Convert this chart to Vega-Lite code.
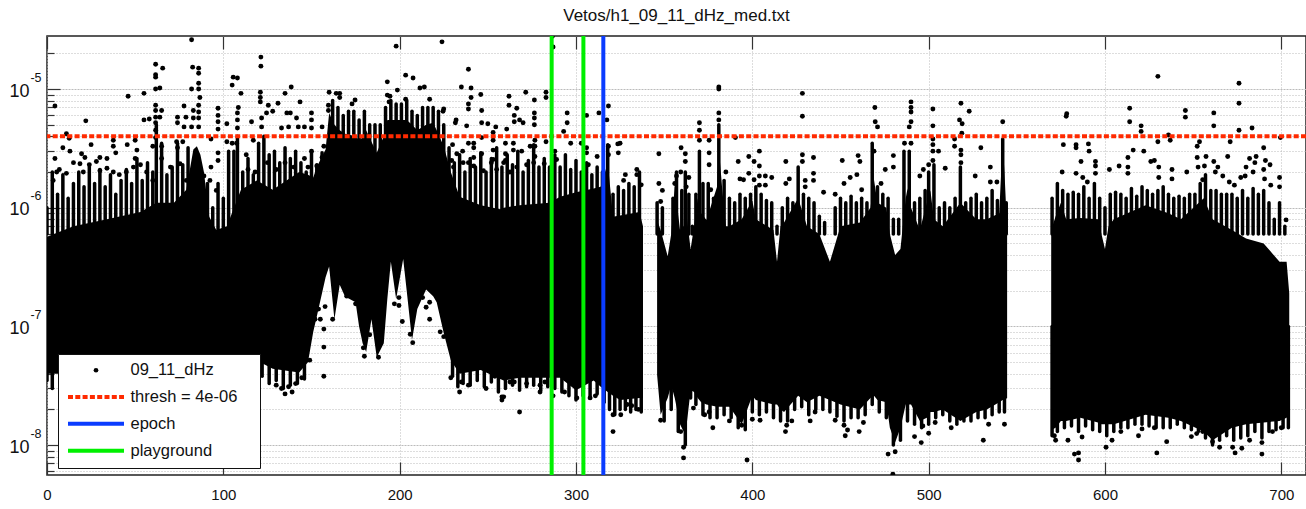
{"$schema":"https://vega.github.io/schema/vega-lite/v6.json","width":1259,"height":439,"autosize":{"type":"none"},"padding":{"left":47,"top":36,"right":0,"bottom":34},"background":"white","title":{"text":"Vetos/h1_09_11_dHz_med.txt","font":"Liberation Sans","fontSize":17,"fontWeight":"normal","color":"#111","offset":9,"anchor":"middle"},"config":{"view":{"stroke":"#222","strokeWidth":1.5},"axis":{"labelFont":"Liberation Sans","labelColor":"#111","title":null,"domain":false,"tickColor":"#333"}},"resolve":{"axis":{"x":"independent","y":"independent"}},"layer":[
{"data":{"values":[
{"seg":1,"x":0,"lo":4.0e-8,"hi":5.7e-7},{"seg":1,"x":15,"lo":4.0e-8,"hi":7e-7},{"seg":1,"x":34,"lo":4.0e-8,"hi":8e-7},{"seg":1,"x":53,"lo":4.1e-8,"hi":9.2e-7},{"seg":1,"x":62,"lo":4.1e-8,"hi":1.1e-6},{"seg":1,"x":72,"lo":4.1e-8,"hi":1.1e-6},{"seg":1,"x":79,"lo":4.1e-8,"hi":1.42e-6},{"seg":1,"x":83,"lo":4.1e-8,"hi":3.1e-6},{"seg":1,"x":85,"lo":4.1e-8,"hi":3.3e-6},{"seg":1,"x":87,"lo":4.1e-8,"hi":2.8e-6},{"seg":1,"x":89,"lo":4.1e-8,"hi":2e-6},{"seg":1,"x":92,"lo":4.1e-8,"hi":8.4e-7},{"seg":1,"x":96,"lo":4.1e-8,"hi":6.5e-7},{"seg":1,"x":102,"lo":4.1e-8,"hi":7e-7},{"seg":1,"x":110,"lo":4.1e-8,"hi":1.42e-6},{"seg":1,"x":119,"lo":4.5e-8,"hi":1.7e-6},{"seg":1,"x":122,"lo":4.9e-8,"hi":1.6e-6},{"seg":1,"x":128,"lo":4.4e-8,"hi":1.42e-6},{"seg":1,"x":143,"lo":4.1e-8,"hi":2e-6},{"seg":1,"x":148,"lo":5e-8,"hi":1.9e-6},{"seg":1,"x":151,"lo":9e-8,"hi":1.8e-6},{"seg":1,"x":153,"lo":1.21e-7,"hi":2.2e-6},{"seg":1,"x":158,"lo":2.6e-7,"hi":3.1e-6},{"seg":1,"x":160,"lo":3.2e-7,"hi":6.3e-6},{"seg":1,"x":163,"lo":1.15e-7,"hi":5e-6},{"seg":1,"x":166,"lo":2.25e-7,"hi":4.5e-6},{"seg":1,"x":169,"lo":1.79e-7,"hi":4.2e-6},{"seg":1,"x":175,"lo":1.6e-7,"hi":4e-6},{"seg":1,"x":177,"lo":1e-7,"hi":3.7e-6},{"seg":1,"x":179,"lo":7.2e-8,"hi":3.9e-6},{"seg":1,"x":181,"lo":6.1e-8,"hi":4.5e-6},{"seg":1,"x":184,"lo":1.15e-7,"hi":3.6e-6},{"seg":1,"x":187,"lo":5.5e-8,"hi":2.9e-6},{"seg":1,"x":191,"lo":7.2e-8,"hi":4e-6},{"seg":1,"x":193,"lo":1.7e-7,"hi":5.5e-6},{"seg":1,"x":195,"lo":3.5e-7,"hi":5.5e-6},{"seg":1,"x":198,"lo":1.7e-7,"hi":5.5e-6},{"seg":1,"x":202,"lo":3.7e-7,"hi":5.5e-6},{"seg":1,"x":204,"lo":2e-7,"hi":5.5e-6},{"seg":1,"x":207,"lo":7.7e-8,"hi":5e-6},{"seg":1,"x":210,"lo":1.4e-7,"hi":4.5e-6},{"seg":1,"x":215,"lo":2.05e-7,"hi":5e-6},{"seg":1,"x":219,"lo":1.8e-7,"hi":5.2e-6},{"seg":1,"x":221,"lo":1.6e-7,"hi":4.5e-6},{"seg":1,"x":225,"lo":8.8e-8,"hi":3.3e-6},{"seg":1,"x":229,"lo":5.2e-8,"hi":2e-6},{"seg":1,"x":234,"lo":4e-8,"hi":1.24e-6},{"seg":1,"x":246,"lo":4.3e-8,"hi":1.05e-6},{"seg":1,"x":257,"lo":3.6e-8,"hi":9.7e-7},{"seg":1,"x":259,"lo":3.5e-8,"hi":1e-6},{"seg":1,"x":268,"lo":3.7e-8,"hi":1.05e-6},{"seg":1,"x":285,"lo":3.7e-8,"hi":1.1e-6},{"seg":1,"x":291,"lo":3.7e-8,"hi":1.24e-6},{"seg":1,"x":300,"lo":2.9e-8,"hi":1.35e-6},{"seg":1,"x":310,"lo":3.5e-8,"hi":1.45e-6},{"seg":1,"x":314,"lo":3.1e-8,"hi":1.5e-6},{"seg":1,"x":318,"lo":2.8e-8,"hi":2.4e-6},{"seg":1,"x":321,"lo":2.6e-8,"hi":8.4e-7},{"seg":1,"x":325,"lo":2.4e-8,"hi":8.6e-7},{"seg":1,"x":336,"lo":2.5e-8,"hi":9.2e-7},{"seg":1,"x":338,"lo":2.5e-8,"hi":7e-7},
{"seg":2,"x":346,"lo":3.9e-8,"hi":7.9e-7},{"seg":2,"x":348,"lo":1.8e-8,"hi":6.5e-7},{"seg":2,"x":352,"lo":2.5e-8,"hi":3.9e-7},{"seg":2,"x":354,"lo":3.2e-8,"hi":6e-7},{"seg":2,"x":356,"lo":2.5e-8,"hi":1.55e-6},{"seg":2,"x":359,"lo":1.5e-8,"hi":6.5e-7},{"seg":2,"x":361,"lo":1.3e-8,"hi":7e-7},{"seg":2,"x":363,"lo":1.6e-8,"hi":7.9e-7},{"seg":2,"x":365,"lo":2.9e-8,"hi":4.5e-7},{"seg":2,"x":367,"lo":2.8e-8,"hi":7e-7},{"seg":2,"x":369,"lo":2.5e-8,"hi":1.2e-6},{"seg":2,"x":371,"lo":2.3e-8,"hi":9e-7},{"seg":2,"x":374,"lo":2.2e-8,"hi":7.9e-7},{"seg":2,"x":380,"lo":2.1e-8,"hi":1.5e-6},{"seg":2,"x":381,"lo":2.1e-8,"hi":3.2e-6},{"seg":2,"x":383,"lo":2.1e-8,"hi":1.4e-6},{"seg":2,"x":385,"lo":2.1e-8,"hi":7e-7},{"seg":2,"x":387,"lo":2.1e-8,"hi":7e-7},{"seg":2,"x":394,"lo":1.5e-8,"hi":8e-7},{"seg":2,"x":400,"lo":2.6e-8,"hi":1.15e-6},{"seg":2,"x":402,"lo":2.4e-8,"hi":8e-7},{"seg":2,"x":412,"lo":2.2e-8,"hi":6.5e-7},{"seg":2,"x":414,"lo":2.2e-8,"hi":3.5e-7},{"seg":2,"x":416,"lo":2e-8,"hi":7e-7},{"seg":2,"x":418,"lo":1.9e-8,"hi":7.5e-7},{"seg":2,"x":426,"lo":2.6e-8,"hi":1.2e-6},{"seg":2,"x":431,"lo":2.3e-8,"hi":7e-7},{"seg":2,"x":438,"lo":2.6e-8,"hi":6e-7},{"seg":2,"x":444,"lo":2.4e-8,"hi":3.5e-7},{"seg":2,"x":450,"lo":2.2e-8,"hi":7e-7},{"seg":2,"x":461,"lo":2e-8,"hi":7.5e-7},{"seg":2,"x":467,"lo":2.5e-8,"hi":1e-6},{"seg":2,"x":469,"lo":2.6e-8,"hi":1.72e-6},{"seg":2,"x":471,"lo":2.4e-8,"hi":1.1e-6},{"seg":2,"x":476,"lo":2.3e-8,"hi":1e-6},{"seg":2,"x":478,"lo":1.4e-8,"hi":6e-7},{"seg":2,"x":481,"lo":1.05e-8,"hi":4e-7},{"seg":2,"x":484,"lo":1.4e-8,"hi":4.5e-7},{"seg":2,"x":487,"lo":2.2e-8,"hi":1.2e-6},{"seg":2,"x":488,"lo":2.2e-8,"hi":1.45e-6},{"seg":2,"x":490,"lo":2.2e-8,"hi":1e-6},{"seg":2,"x":495,"lo":1.6e-8,"hi":6.5e-7},{"seg":2,"x":499,"lo":1.7e-8,"hi":1.1e-6},{"seg":2,"x":501,"lo":1.9e-8,"hi":1.4e-6},{"seg":2,"x":503,"lo":1.9e-8,"hi":8e-7},{"seg":2,"x":508,"lo":2e-8,"hi":7e-7},{"seg":2,"x":518,"lo":1.6e-8,"hi":1.1e-6},{"seg":2,"x":527,"lo":1.9e-8,"hi":8e-7},{"seg":2,"x":533,"lo":2e-8,"hi":8e-7},{"seg":2,"x":540,"lo":2.3e-8,"hi":9e-7},{"seg":2,"x":542,"lo":2.4e-8,"hi":3.6e-6},{"seg":2,"x":543,"lo":2.4e-8,"hi":2e-6},{"seg":2,"x":544.5,"lo":2.5e-8,"hi":6.5e-7},
{"seg":3,"x":569.5,"lo":1.34e-8,"hi":6.5e-7},{"seg":3,"x":572,"lo":1.4e-8,"hi":8.5e-7},{"seg":3,"x":575,"lo":1.6e-8,"hi":1.1e-6},{"seg":3,"x":578,"lo":1.6e-8,"hi":8e-7},{"seg":3,"x":586,"lo":1.7e-8,"hi":8.2e-7},{"seg":3,"x":596,"lo":1.55e-8,"hi":8e-7},{"seg":3,"x":598,"lo":1.5e-8,"hi":6e-7},{"seg":3,"x":600,"lo":1.5e-8,"hi":4.5e-7},{"seg":3,"x":602,"lo":1.5e-8,"hi":7e-7},{"seg":3,"x":605,"lo":1.5e-8,"hi":8e-7},{"seg":3,"x":623,"lo":1.8e-8,"hi":1.05e-6},{"seg":3,"x":636,"lo":1.7e-8,"hi":9e-7},{"seg":3,"x":643,"lo":1.6e-8,"hi":8e-7},{"seg":3,"x":656,"lo":1.3e-8,"hi":1.2e-6},{"seg":3,"x":661,"lo":1.1e-8,"hi":8e-7},{"seg":3,"x":672,"lo":1.4e-8,"hi":6.5e-7},{"seg":3,"x":680,"lo":1.5e-8,"hi":5.5e-7},{"seg":3,"x":690,"lo":1.55e-8,"hi":5e-7},{"seg":3,"x":699,"lo":1.6e-8,"hi":3.5e-7},{"seg":3,"x":703,"lo":1.7e-8,"hi":3.5e-7},{"seg":3,"x":704.5,"lo":1.8e-8,"hi":1.9e-7}
]},"mark":{"type":"area","color":"black","clip":true},"encoding":{"detail":{"field":"seg"},"x":{"field":"x","type":"quantitative","scale":{"domain":[0,714],"nice":false,"zero":false},"axis":{"orient":"bottom","values":[0,100,200,300,400,500,600,700],"labelFontSize":15,"labelPadding":25,"tickSize":-13,"tickColor":"#333","tickWidth":1.2,"grid":true,"gridColor":"#bbb","gridDash":[1,2],"labelFlush":false,"labelOverlap":false,"format":"d"}},"y":{"field":"lo","type":"quantitative","scale":{"type":"log","domain":[5.6e-9,2.8e-5],"nice":false},"axis":{"orient":"left","values":[1e-8,1e-7,1e-6,1e-5],"labelExpr":"'10'","labelFontSize":18,"labelPadding":31,"labelOffset":2,"tickSize":-13,"tickWidth":1.2,"grid":true,"gridColor":"#bbb","gridDash":[2,1],"labelOverlap":false}},"y2":{"field":"hi"}}},
{"data":{"values":[
{"x":0,"lo":6e-7,"hi":1e-6},{"x":3,"lo":6e-7,"hi":2e-6},{"x":6,"lo":6e-7,"hi":1.3e-6},{"x":9,"lo":6e-7,"hi":1.9e-6},{"x":12,"lo":6e-7,"hi":1.2e-6},{"x":15,"lo":6e-7,"hi":1.6e-6},{"x":18,"lo":6e-7,"hi":2e-6},{"x":21,"lo":6e-7,"hi":1.5e-6},{"x":24,"lo":6e-7,"hi":2.2e-6},{"x":27,"lo":6e-7,"hi":1.6e-6},{"x":30,"lo":6e-7,"hi":2.1e-6},{"x":33,"lo":6e-7,"hi":1.5e-6},{"x":36,"lo":6e-7,"hi":1.9e-6},{"x":39,"lo":6e-7,"hi":1.3e-6},{"x":42,"lo":6e-7,"hi":1.7e-6},{"x":45,"lo":6e-7,"hi":2.1e-6},{"x":48,"lo":6e-7,"hi":1.6e-6},{"x":51,"lo":6e-7,"hi":2.6e-6},{"x":54,"lo":6e-7,"hi":1.7e-6},{"x":57,"lo":6e-7,"hi":2.4e-6},{"x":60,"lo":6e-7,"hi":2e-6},{"x":62,"lo":6e-7,"hi":5e-6},{"x":65,"lo":6e-7,"hi":3.5e-6},{"x":68,"lo":6e-7,"hi":1.9e-6},{"x":71,"lo":6e-7,"hi":2.2e-6},{"x":74,"lo":6e-7,"hi":3.5e-6},{"x":77,"lo":6e-7,"hi":2.3e-6},{"x":80,"lo":6e-7,"hi":3.2e-6},{"x":91,"lo":6e-7,"hi":1.6e-6},{"x":94,"lo":6e-7,"hi":1e-6},{"x":97,"lo":6e-7,"hi":1.6e-6},{"x":100,"lo":6e-7,"hi":1.2e-6},{"x":103,"lo":6e-7,"hi":3e-6},{"x":106,"lo":6e-7,"hi":3e-6},{"x":108,"lo":6e-7,"hi":4e-6},{"x":111,"lo":6e-7,"hi":2e-6},{"x":114,"lo":6e-7,"hi":2.6e-6},{"x":117,"lo":6e-7,"hi":1.9e-6},{"x":120,"lo":6e-7,"hi":3.5e-6},{"x":123,"lo":6e-7,"hi":4e-6},{"x":126,"lo":6e-7,"hi":2.8e-6},{"x":129,"lo":6e-7,"hi":3e-6},{"x":132,"lo":6e-7,"hi":2.4e-6},{"x":135,"lo":6e-7,"hi":3.2e-6},{"x":138,"lo":6e-7,"hi":2.6e-6},{"x":141,"lo":6e-7,"hi":3e-6},{"x":144,"lo":6e-7,"hi":2.4e-6},{"x":147,"lo":6e-7,"hi":2e-6},{"x":150,"lo":6e-7,"hi":3e-6},{"x":153,"lo":6e-7,"hi":2.3e-6},{"x":156,"lo":6e-7,"hi":2.9e-6},{"x":162,"lo":6e-7,"hi":8e-6},{"x":165,"lo":6e-7,"hi":7e-6},{"x":168,"lo":6e-7,"hi":6e-6},{"x":171,"lo":6e-7,"hi":6.5e-6},{"x":174,"lo":6e-7,"hi":6.5e-6},{"x":177,"lo":6e-7,"hi":5.5e-6},{"x":180,"lo":6e-7,"hi":6.5e-6},{"x":183,"lo":6e-7,"hi":5e-6},{"x":186,"lo":6e-7,"hi":5e-6},{"x":189,"lo":6e-7,"hi":5e-6},{"x":192,"lo":6e-7,"hi":7e-6},{"x":195,"lo":6e-7,"hi":8e-6},{"x":198,"lo":6e-7,"hi":7.5e-6},{"x":201,"lo":6e-7,"hi":7.5e-6},{"x":204,"lo":6e-7,"hi":8e-6},{"x":207,"lo":6e-7,"hi":6.5e-6},{"x":210,"lo":6e-7,"hi":6e-6},{"x":213,"lo":6e-7,"hi":7e-6},{"x":216,"lo":6e-7,"hi":7e-6},{"x":219,"lo":6e-7,"hi":7e-6},{"x":222,"lo":6e-7,"hi":6.5e-6},{"x":225,"lo":6e-7,"hi":5e-6},{"x":228,"lo":6e-7,"hi":3.2e-6},{"x":231,"lo":6e-7,"hi":2.4e-6},{"x":234,"lo":6e-7,"hi":2.8e-6},{"x":237,"lo":6e-7,"hi":2e-6},{"x":240,"lo":6e-7,"hi":2.6e-6},{"x":243,"lo":6e-7,"hi":2.2e-6},{"x":246,"lo":6e-7,"hi":2.9e-6},{"x":249,"lo":6e-7,"hi":2e-6},{"x":252,"lo":6e-7,"hi":2.6e-6},{"x":255,"lo":6e-7,"hi":3.2e-6},{"x":258,"lo":6e-7,"hi":2.2e-6},{"x":261,"lo":6e-7,"hi":2.8e-6},{"x":264,"lo":6e-7,"hi":2.3e-6},{"x":267,"lo":6e-7,"hi":3e-6},{"x":270,"lo":6e-7,"hi":2e-6},{"x":273,"lo":6e-7,"hi":2.5e-6},{"x":276,"lo":6e-7,"hi":3.4e-6},{"x":279,"lo":6e-7,"hi":2.2e-6},{"x":282,"lo":6e-7,"hi":2.6e-6},{"x":285,"lo":6e-7,"hi":2.2e-6},{"x":288,"lo":6e-7,"hi":2.8e-6},{"x":291,"lo":6e-7,"hi":2.2e-6},{"x":294,"lo":6e-7,"hi":2.8e-6},{"x":297,"lo":6e-7,"hi":2.1e-6},{"x":300,"lo":6e-7,"hi":2.5e-6},{"x":303,"lo":6e-7,"hi":2e-6},{"x":306,"lo":6e-7,"hi":2.4e-6},{"x":309,"lo":6e-7,"hi":1.9e-6},{"x":312,"lo":6e-7,"hi":2.2e-6},{"x":315,"lo":6e-7,"hi":2e-6},{"x":318,"lo":6e-7,"hi":3.4e-6},{"x":321,"lo":6e-7,"hi":1.3e-6},{"x":324,"lo":6e-7,"hi":1.5e-6},{"x":327,"lo":6e-7,"hi":1.4e-6},{"x":330,"lo":6e-7,"hi":1.6e-6},{"x":333,"lo":6e-7,"hi":1.5e-6},{"x":336,"lo":6e-7,"hi":2e-6},
{"x":346,"lo":6e-7,"hi":1.1e-6},{"x":349,"lo":6e-7,"hi":1e-6},{"x":355,"lo":6e-7,"hi":1.2e-6},{"x":357,"lo":6e-7,"hi":2e-6},{"x":360,"lo":6e-7,"hi":1.4e-6},{"x":362,"lo":6e-7,"hi":2e-6},{"x":364,"lo":6e-7,"hi":1.3e-6},{"x":366,"lo":6e-7,"hi":7e-7},{"x":368,"lo":6e-7,"hi":1.3e-6},{"x":370,"lo":6e-7,"hi":3e-6},{"x":372,"lo":6e-7,"hi":1.6e-6},{"x":375,"lo":6e-7,"hi":1.6e-6},{"x":378,"lo":6e-7,"hi":1.2e-6},{"x":381,"lo":6e-7,"hi":5e-6},{"x":384,"lo":6e-7,"hi":1.7e-6},{"x":387,"lo":6e-7,"hi":1.2e-6},{"x":390,"lo":6e-7,"hi":1.1e-6},{"x":393,"lo":6e-7,"hi":1.3e-6},{"x":396,"lo":6e-7,"hi":1.2e-6},{"x":399,"lo":6e-7,"hi":1.3e-6},{"x":402,"lo":6e-7,"hi":1.5e-6},{"x":405,"lo":6e-7,"hi":1.3e-6},{"x":408,"lo":6e-7,"hi":1.15e-6},{"x":411,"lo":6e-7,"hi":1.1e-6},{"x":414,"lo":6e-7,"hi":7e-7},{"x":417,"lo":6e-7,"hi":1e-6},{"x":420,"lo":6e-7,"hi":1.2e-6},{"x":423,"lo":6e-7,"hi":1.1e-6},{"x":426,"lo":6e-7,"hi":2.2e-6},{"x":429,"lo":6e-7,"hi":1.3e-6},{"x":432,"lo":6e-7,"hi":1.2e-6},{"x":435,"lo":6e-7,"hi":1.1e-6},{"x":438,"lo":6e-7,"hi":8.5e-7},{"x":441,"lo":6e-7,"hi":7.5e-7},{"x":447,"lo":6e-7,"hi":1e-6},{"x":450,"lo":6e-7,"hi":1.2e-6},{"x":453,"lo":6e-7,"hi":1.1e-6},{"x":456,"lo":6e-7,"hi":1.25e-6},{"x":459,"lo":6e-7,"hi":1.1e-6},{"x":462,"lo":6e-7,"hi":1.2e-6},{"x":465,"lo":6e-7,"hi":1.1e-6},{"x":468,"lo":6e-7,"hi":3.5e-6},{"x":471,"lo":6e-7,"hi":1.5e-6},{"x":474,"lo":6e-7,"hi":1.3e-6},{"x":477,"lo":6e-7,"hi":1.2e-6},{"x":480,"lo":6e-7,"hi":8e-7},{"x":483,"lo":6e-7,"hi":8e-7},{"x":486,"lo":6e-7,"hi":3e-6},{"x":489,"lo":6e-7,"hi":3e-6},{"x":492,"lo":6e-7,"hi":1.1e-6},{"x":495,"lo":6e-7,"hi":1.2e-6},{"x":498,"lo":6e-7,"hi":1.4e-6},{"x":500,"lo":6e-7,"hi":2e-6},{"x":503,"lo":6e-7,"hi":2.3e-6},{"x":506,"lo":6e-7,"hi":1e-6},{"x":509,"lo":6e-7,"hi":1.1e-6},{"x":512,"lo":6e-7,"hi":1e-6},{"x":515,"lo":6e-7,"hi":1.2e-6},{"x":518,"lo":6e-7,"hi":2.2e-6},{"x":521,"lo":6e-7,"hi":1.1e-6},{"x":524,"lo":6e-7,"hi":1.2e-6},{"x":527,"lo":6e-7,"hi":1.3e-6},{"x":530,"lo":6e-7,"hi":1.1e-6},{"x":533,"lo":6e-7,"hi":1.2e-6},{"x":536,"lo":6e-7,"hi":1.4e-6},{"x":539,"lo":6e-7,"hi":1.15e-6},{"x":542,"lo":6e-7,"hi":3.8e-6},{"x":544,"lo":6e-7,"hi":1.1e-6},
{"x":570,"lo":6e-7,"hi":1.2e-6},{"x":573,"lo":6e-7,"hi":1.6e-6},{"x":576,"lo":6e-7,"hi":1.4e-6},{"x":579,"lo":6e-7,"hi":1.3e-6},{"x":582,"lo":6e-7,"hi":1.35e-6},{"x":585,"lo":6e-7,"hi":1.3e-6},{"x":588,"lo":6e-7,"hi":1.5e-6},{"x":591,"lo":6e-7,"hi":1.2e-6},{"x":594,"lo":6e-7,"hi":1.6e-6},{"x":597,"lo":6e-7,"hi":1.2e-6},{"x":600,"lo":6e-7,"hi":1e-6},{"x":603,"lo":6e-7,"hi":1.3e-6},{"x":606,"lo":6e-7,"hi":1.35e-6},{"x":609,"lo":6e-7,"hi":1.3e-6},{"x":612,"lo":6e-7,"hi":1.2e-6},{"x":615,"lo":6e-7,"hi":1.45e-6},{"x":618,"lo":6e-7,"hi":1.25e-6},{"x":621,"lo":6e-7,"hi":1.5e-6},{"x":624,"lo":6e-7,"hi":1.4e-6},{"x":627,"lo":6e-7,"hi":1.3e-6},{"x":630,"lo":6e-7,"hi":1.4e-6},{"x":633,"lo":6e-7,"hi":1.5e-6},{"x":636,"lo":6e-7,"hi":1.3e-6},{"x":639,"lo":6e-7,"hi":1.2e-6},{"x":642,"lo":6e-7,"hi":1.25e-6},{"x":645,"lo":6e-7,"hi":1.2e-6},{"x":648,"lo":6e-7,"hi":1.3e-6},{"x":651,"lo":6e-7,"hi":1.3e-6},{"x":654,"lo":6e-7,"hi":1.6e-6},{"x":657,"lo":6e-7,"hi":1.9e-6},{"x":660,"lo":6e-7,"hi":1.4e-6},{"x":663,"lo":6e-7,"hi":1.4e-6},{"x":666,"lo":6e-7,"hi":1.3e-6},{"x":669,"lo":6e-7,"hi":1.3e-6},{"x":672,"lo":6e-7,"hi":1.3e-6},{"x":675,"lo":6e-7,"hi":1.2e-6},{"x":678,"lo":6e-7,"hi":1.4e-6},{"x":681,"lo":6e-7,"hi":1.2e-6},{"x":684,"lo":6e-7,"hi":1.45e-6},{"x":687,"lo":6e-7,"hi":1.3e-6},{"x":690,"lo":6e-7,"hi":1.4e-6},{"x":693,"lo":6e-7,"hi":1.1e-6},{"x":696,"lo":6e-7,"hi":8e-7},{"x":699,"lo":6e-7,"hi":1.1e-6},{"x":702,"lo":6e-7,"hi":7e-7},
{"x":0,"lo":3.5e-8,"hi":1e-7},{"x":3,"lo":3e-8,"hi":1e-7},{"x":122,"lo":3.8e-8,"hi":1e-7},{"x":126,"lo":3.3e-8,"hi":1e-7},{"x":130,"lo":3.5e-8,"hi":1e-7},{"x":134,"lo":3e-8,"hi":1e-7},{"x":138,"lo":3.2e-8,"hi":1e-7},{"x":142,"lo":3.3e-8,"hi":1e-7},{"x":146,"lo":3.6e-8,"hi":1e-7},{"x":230,"lo":3.8e-8,"hi":1e-7},{"x":233,"lo":3.1e-8,"hi":1e-7},{"x":236,"lo":3.3e-8,"hi":1e-7},{"x":240,"lo":3.2e-8,"hi":1e-7},{"x":244,"lo":3.5e-8,"hi":1e-7},{"x":248,"lo":3.1e-8,"hi":1e-7},{"x":252,"lo":3.4e-8,"hi":1e-7},{"x":256,"lo":2.8e-8,"hi":1e-7},{"x":260,"lo":3e-8,"hi":1e-7},{"x":264,"lo":3.2e-8,"hi":1e-7},{"x":268,"lo":2.9e-8,"hi":1e-7},{"x":272,"lo":3.1e-8,"hi":1e-7},{"x":276,"lo":3.2e-8,"hi":1e-7},{"x":280,"lo":2.9e-8,"hi":1e-7},{"x":284,"lo":3.1e-8,"hi":1e-7},{"x":288,"lo":3e-8,"hi":1e-7},{"x":292,"lo":2.8e-8,"hi":1e-7},{"x":296,"lo":2.6e-8,"hi":1e-7},{"x":300,"lo":2.4e-8,"hi":1e-7},{"x":304,"lo":2.6e-8,"hi":1e-7},{"x":308,"lo":2.6e-8,"hi":1e-7},{"x":312,"lo":2.7e-8,"hi":1e-7},{"x":316,"lo":2.3e-8,"hi":1e-7},{"x":319,"lo":2e-8,"hi":1e-7},{"x":322,"lo":1.8e-8,"hi":1e-7},{"x":325,"lo":2e-8,"hi":1e-7},{"x":328,"lo":2e-8,"hi":1e-7},{"x":331,"lo":1.9e-8,"hi":1e-7},{"x":334,"lo":2e-8,"hi":1e-7},{"x":337,"lo":1.9e-8,"hi":1e-7},
{"x":350,"lo":1.6e-8,"hi":1e-7},{"x":354,"lo":2e-8,"hi":1e-7},{"x":358,"lo":1.3e-8,"hi":1e-7},{"x":362,"lo":1e-8,"hi":1e-7},{"x":365,"lo":2.5e-8,"hi":1e-7},{"x":368,"lo":2.2e-8,"hi":1e-7},{"x":372,"lo":1.8e-8,"hi":1e-7},{"x":376,"lo":1.7e-8,"hi":1e-7},{"x":380,"lo":1.7e-8,"hi":1e-7},{"x":384,"lo":1.8e-8,"hi":1e-7},{"x":388,"lo":1.7e-8,"hi":1e-7},{"x":392,"lo":1.4e-8,"hi":1e-7},{"x":396,"lo":1.35e-8,"hi":1e-7},{"x":400,"lo":1.9e-8,"hi":1e-7},{"x":404,"lo":1.8e-8,"hi":1e-7},{"x":408,"lo":1.9e-8,"hi":1e-7},{"x":412,"lo":1.7e-8,"hi":1e-7},{"x":416,"lo":1.6e-8,"hi":1e-7},{"x":420,"lo":1.6e-8,"hi":1e-7},{"x":424,"lo":2e-8,"hi":1e-7},{"x":428,"lo":2.1e-8,"hi":1e-7},{"x":432,"lo":1.8e-8,"hi":1e-7},{"x":436,"lo":2e-8,"hi":1e-7},{"x":440,"lo":2e-8,"hi":1e-7},{"x":444,"lo":1.9e-8,"hi":1e-7},{"x":448,"lo":1.75e-8,"hi":1e-7},{"x":452,"lo":1.6e-8,"hi":1e-7},{"x":456,"lo":1.7e-8,"hi":1e-7},{"x":460,"lo":1.7e-8,"hi":1e-7},{"x":464,"lo":1.8e-8,"hi":1e-7},{"x":468,"lo":2.2e-8,"hi":1e-7},{"x":472,"lo":1.9e-8,"hi":1e-7},{"x":476,"lo":1.7e-8,"hi":1e-7},{"x":480,"lo":1e-8,"hi":1e-7},{"x":484,"lo":1.1e-8,"hi":1e-7},{"x":488,"lo":1.6e-8,"hi":1e-7},{"x":492,"lo":1.5e-8,"hi":1e-7},{"x":496,"lo":1.4e-8,"hi":1e-7},{"x":500,"lo":1.5e-8,"hi":1e-7},{"x":504,"lo":1.7e-8,"hi":1e-7},{"x":508,"lo":1.8e-8,"hi":1e-7},{"x":512,"lo":1.6e-8,"hi":1e-7},{"x":516,"lo":1.5e-8,"hi":1e-7},{"x":520,"lo":1.6e-8,"hi":1e-7},{"x":524,"lo":1.6e-8,"hi":1e-7},{"x":528,"lo":1.7e-8,"hi":1e-7},{"x":532,"lo":1.7e-8,"hi":1e-7},{"x":536,"lo":1.8e-8,"hi":1e-7},{"x":540,"lo":1.9e-8,"hi":1e-7},{"x":543,"lo":1.9e-8,"hi":1e-7},
{"x":570,"lo":1.2e-8,"hi":1e-7},{"x":573,"lo":1.3e-8,"hi":1e-7},{"x":577,"lo":1.4e-8,"hi":1e-7},{"x":581,"lo":1.45e-8,"hi":1e-7},{"x":585,"lo":1.3e-8,"hi":1e-7},{"x":589,"lo":1.45e-8,"hi":1e-7},{"x":593,"lo":1.35e-8,"hi":1e-7},{"x":597,"lo":1.3e-8,"hi":1e-7},{"x":601,"lo":1.2e-8,"hi":1e-7},{"x":605,"lo":1.3e-8,"hi":1e-7},{"x":609,"lo":1.4e-8,"hi":1e-7},{"x":613,"lo":1.4e-8,"hi":1e-7},{"x":617,"lo":1.5e-8,"hi":1e-7},{"x":621,"lo":1.5e-8,"hi":1e-7},{"x":625,"lo":1.45e-8,"hi":1e-7},{"x":629,"lo":1.4e-8,"hi":1e-7},{"x":633,"lo":1.4e-8,"hi":1e-7},{"x":637,"lo":1.4e-8,"hi":1e-7},{"x":641,"lo":1.5e-8,"hi":1e-7},{"x":645,"lo":1.4e-8,"hi":1e-7},{"x":649,"lo":1.35e-8,"hi":1e-7},{"x":653,"lo":1.3e-8,"hi":1e-7},{"x":657,"lo":1.15e-8,"hi":1e-7},{"x":661,"lo":1e-8,"hi":1e-7},{"x":665,"lo":1.1e-8,"hi":1e-7},{"x":669,"lo":1.2e-8,"hi":1e-7},{"x":673,"lo":1.1e-8,"hi":1e-7},{"x":677,"lo":1.15e-8,"hi":1e-7},{"x":681,"lo":1.2e-8,"hi":1e-7},{"x":685,"lo":1.3e-8,"hi":1e-7},{"x":689,"lo":1.15e-8,"hi":1e-7},{"x":693,"lo":1.3e-8,"hi":1e-7},{"x":697,"lo":1.35e-8,"hi":1e-7},{"x":701,"lo":1.4e-8,"hi":1e-7},{"x":704,"lo":1.4e-8,"hi":1e-7}
]},"mark":{"type":"rule","color":"black","strokeWidth":3.5,"strokeCap":"round","clip":true},"encoding":{"x":{"field":"x","type":"quantitative","axis":null},"y":{"field":"lo","type":"quantitative","axis":null},"y2":{"field":"hi"}}},
{"data":{"values":[
{"x":82,"y":2.6e-5},{"x":61.6,"y":1.62e-5},{"x":65.6,"y":1.5e-5},{"x":61.6,"y":1.26e-5},{"x":61.6,"y":1.32e-5},{"x":82.6,"y":1.53e-5},{"x":86,"y":1.5e-5},{"x":86,"y":1.36e-5},{"x":86,"y":1.12e-5},{"x":86,"y":1e-5},{"x":82,"y":1e-5},{"x":121.3,"y":1.86e-5},{"x":121.3,"y":1.56e-5},{"x":105.6,"y":1.26e-5},{"x":108,"y":1.24e-5},{"x":105,"y":1.08e-5},{"x":110,"y":9.2e-6},{"x":121,"y":9.4e-6},{"x":121,"y":8.5e-6},{"x":121,"y":7.8e-6},{"x":138.5,"y":1.04e-5},{"x":135,"y":9.2e-6},{"x":143.5,"y":7.8e-6},{"x":46,"y":8.7e-6},{"x":55,"y":9.2e-6},{"x":4.5,"y":7.2e-6},{"x":22,"y":5.4e-6},{"x":61.6,"y":1e-5},{"x":64,"y":1.02e-5},{"x":77.7,"y":7.2e-6},{"x":86.7,"y":8.5e-6},{"x":86,"y":7.3e-6},{"x":86,"y":6.4e-6},{"x":86,"y":5.7e-6},{"x":83,"y":6.6e-6},{"x":83,"y":5.7e-6},{"x":82,"y":4.8e-6},{"x":86,"y":4.8e-6},{"x":97,"y":6.9e-6},{"x":97,"y":6e-6},{"x":97,"y":5.3e-6},{"x":97,"y":4.6e-6},{"x":102,"y":5.1e-6},{"x":61.6,"y":7.3e-6},{"x":61.6,"y":6.6e-6},{"x":61.6,"y":5.8e-6},{"x":61.6,"y":5.2e-6},{"x":61.6,"y":4.5e-6},{"x":61.6,"y":3.9e-6},{"x":65,"y":6.6e-6},{"x":64,"y":5.8e-6},{"x":55,"y":5.5e-6},{"x":58,"y":5.6e-6},{"x":74,"y":5.8e-6},{"x":74,"y":5.2e-6},{"x":78.8,"y":5.8e-6},{"x":77.7,"y":4.8e-6},{"x":108.5,"y":7e-6},{"x":108,"y":6.3e-6},{"x":108,"y":5.5e-6},{"x":108,"y":4.7e-6},{"x":116,"y":5.3e-6},{"x":125.5,"y":7.3e-6},{"x":124.5,"y":6.3e-6},{"x":128,"y":6.5e-6},{"x":121.7,"y":5.7e-6},{"x":121.7,"y":4.8e-6},{"x":131,"y":7.6e-6},{"x":136,"y":6.3e-6},{"x":138,"y":6.3e-6},{"x":141.5,"y":5.7e-6},{"x":133,"y":4.7e-6},{"x":137,"y":4.8e-6},{"x":142.5,"y":4.8e-6},{"x":11,"y":4.2e-6},{"x":12.6,"y":3.85e-6},{"x":25,"y":3.4e-6},{"x":37.6,"y":3.7e-6},{"x":37.6,"y":3.3e-6},{"x":39,"y":2.9e-6},{"x":9,"y":3.2e-6},{"x":13,"y":3e-6},{"x":4.5,"y":2.6e-6},{"x":19.6,"y":2.85e-6},{"x":21.5,"y":2.65e-6},{"x":30,"y":2.65e-6},{"x":34,"y":2.6e-6},{"x":45.5,"y":3.4e-6},{"x":50,"y":3.7e-6},{"x":51,"y":3.06e-6},{"x":50,"y":2.6e-6},{"x":60,"y":3.3e-6},{"x":65,"y":3.3e-6},{"x":65,"y":2.6e-6},{"x":73.5,"y":3.6e-6},{"x":74,"y":3.2e-6},{"x":77,"y":3.6e-6},{"x":93,"y":3.8e-6},{"x":97,"y":2.9e-6},{"x":97,"y":2.5e-6},{"x":93,"y":2.2e-6},{"x":102,"y":3.6e-6},{"x":105,"y":3.5e-6},{"x":107.5,"y":3.5e-6},{"x":113,"y":2.8e-6},{"x":117,"y":3.7e-6},
{"x":5.5,"y":2e-6},{"x":7,"y":2.1e-6},{"x":3.5,"y":1.7e-6},{"x":11,"y":1.95e-6},{"x":15,"y":2.4e-6},{"x":18.7,"y":2.35e-6},{"x":20.6,"y":2e-6},{"x":24,"y":2.3e-6},{"x":28,"y":2.45e-6},{"x":34,"y":2.15e-6},{"x":30,"y":2.05e-6},{"x":37.6,"y":2e-6},{"x":41,"y":1.9e-6},{"x":45,"y":2e-6},{"x":49,"y":2.2e-6},{"x":53,"y":2.3e-6},{"x":56.5,"y":2e-6},{"x":60,"y":1.7e-6},{"x":70,"y":2.2e-6},{"x":75.4,"y":2.35e-6},{"x":79,"y":1.7e-6},{"x":89,"y":1.85e-6},{"x":92.4,"y":1.7e-6},{"x":96,"y":1.4e-6},{"x":114,"y":2.1e-6},{"x":118,"y":2e-6},{"x":125,"y":2.4e-6},{"x":130,"y":2.1e-6},{"x":135,"y":2.4e-6},{"x":140,"y":2.2e-6},{"x":146,"y":4.8e-6},{"x":150,"y":6.3e-6},{"x":150,"y":5.5e-6},{"x":150,"y":4.7e-6},{"x":156,"y":4.8e-6},{"x":150,"y":3e-6},{"x":157,"y":3.3e-6},{"x":156,"y":2.65e-6},{"x":153,"y":2.25e-6},{"x":146,"y":2.6e-6},{"x":148,"y":2.2e-6},
{"x":198,"y":2.3e-5},{"x":224,"y":2.5e-5},{"x":286.6,"y":2.78e-5},{"x":287,"y":2.26e-5},{"x":239,"y":1.47e-5},{"x":203.4,"y":1.31e-5},{"x":207.6,"y":1.24e-5},{"x":193,"y":1.15e-5},{"x":211.5,"y":1.02e-5},{"x":214,"y":1.04e-5},{"x":235,"y":1.04e-5},{"x":240.5,"y":1.02e-5},{"x":198.7,"y":9.8e-6},{"x":160,"y":9.4e-6},{"x":164,"y":9.2e-6},{"x":166,"y":9.2e-6},{"x":166,"y":8.5e-6},{"x":193,"y":8.9e-6},{"x":194.5,"y":8.7e-6},{"x":246,"y":9e-6},{"x":240.5,"y":8.5e-6},{"x":262,"y":8.7e-6},{"x":271.5,"y":9.4e-6},{"x":283,"y":9.4e-6},{"x":283,"y":8.5e-6},{"x":276.4,"y":8.1e-6},{"x":217,"y":8.2e-6},{"x":203.4,"y":8.2e-6},{"x":194,"y":7.8e-6},{"x":174.7,"y":8.1e-6},{"x":173,"y":7.5e-6},{"x":159.6,"y":7.3e-6},{"x":159.6,"y":6.6e-6},{"x":225,"y":6.8e-6},{"x":224.6,"y":6.5e-6},{"x":239,"y":7.5e-6},{"x":239,"y":6.8e-6},{"x":246.5,"y":6.6e-6},{"x":262,"y":7.3e-6},{"x":266.4,"y":6.9e-6},{"x":276.4,"y":6.3e-6},{"x":276.4,"y":5.7e-6},{"x":276.4,"y":5e-6},{"x":265,"y":6e-6},{"x":265,"y":5.3e-6},{"x":268,"y":5.5e-6},{"x":270,"y":5.2e-6},{"x":232,"y":5.5e-6},{"x":231.6,"y":5.2e-6},{"x":246.5,"y":5.2e-6},{"x":250,"y":5.1e-6},{"x":254.5,"y":4.8e-6},{"x":238,"y":4.9e-6},{"x":260.7,"y":4.6e-6},{"x":253,"y":4.3e-6},{"x":230,"y":3.4e-6},{"x":239,"y":3.5e-6},{"x":242,"y":3.5e-6},{"x":242,"y":3.2e-6},{"x":246.5,"y":3.9e-6},{"x":253,"y":3.7e-6},{"x":253,"y":3.06e-6},{"x":253,"y":2.55e-6},{"x":260,"y":3.5e-6},{"x":260,"y":2.85e-6},{"x":260,"y":2.5e-6},{"x":264.5,"y":3.5e-6},{"x":269.2,"y":3e-6},{"x":264.5,"y":3.06e-6},{"x":274,"y":3.3e-6},{"x":276.7,"y":3.7e-6},{"x":276.7,"y":3.3e-6},{"x":276.7,"y":2.7e-6},{"x":283,"y":3.6e-6},{"x":288,"y":3e-6},{"x":289,"y":2.55e-6},{"x":229.5,"y":2.5e-6},{"x":232.4,"y":2.85e-6},{"x":235.7,"y":3e-6},{"x":236,"y":2.4e-6},{"x":230.5,"y":2.2e-6},{"x":242,"y":2.65e-6},{"x":239,"y":2.4e-6},{"x":242,"y":2.25e-6},{"x":246.5,"y":2.85e-6},{"x":247.5,"y":2.05e-6},{"x":252,"y":2.4e-6},{"x":255,"y":2.1e-6},{"x":259,"y":2.4e-6},{"x":262.6,"y":2e-6},{"x":266.4,"y":2.2e-6},{"x":272,"y":2.3e-6},{"x":276,"y":2.4e-6},{"x":282,"y":2.35e-6},
{"x":144.5,"y":3.7e-8},{"x":149,"y":5.2e-8},{"x":157,"y":3.8e-8},{"x":157,"y":6.7e-8},{"x":152,"y":1.15e-7},{"x":155,"y":1.15e-7},{"x":157,"y":9.5e-8},{"x":154,"y":1.4e-7},{"x":157.7,"y":1.47e-7},{"x":162,"y":1.15e-7},{"x":170,"y":1.8e-7},{"x":175,"y":1.55e-7},{"x":179.4,"y":6.6e-8},{"x":180,"y":5.6e-8},{"x":183,"y":8.5e-8},{"x":188,"y":5.5e-8},{"x":197,"y":1.55e-7},{"x":199.6,"y":1.5e-7},{"x":199.6,"y":1.75e-7},{"x":201.5,"y":1.1e-7},{"x":207.4,"y":7.3e-8},{"x":206,"y":8.6e-8},{"x":213,"y":1.75e-7},{"x":215,"y":1.45e-7},{"x":217,"y":1.15e-7},{"x":217,"y":1.6e-7},{"x":223,"y":9e-8},{"x":225,"y":8.2e-8},{"x":229,"y":3.7e-8},{"x":234,"y":2.8e-8},{"x":235,"y":3.4e-8},{"x":239,"y":3.2e-8},{"x":249,"y":3e-8},{"x":258,"y":2.55e-8},{"x":258,"y":2.4e-8},{"x":259,"y":2.55e-8},{"x":268,"y":1.9e-8},{"x":279.6,"y":2.8e-8},{"x":279.6,"y":3.2e-8},{"x":265,"y":3.4e-8},{"x":262.6,"y":3.4e-8},{"x":254,"y":3.8e-8},{"x":272,"y":3.3e-8},{"x":287,"y":2.6e-8},{"x":282.4,"y":3.4e-8},{"x":130,"y":3.2e-8},{"x":135,"y":2.7e-8},{"x":137,"y":3.1e-8},{"x":139,"y":2.8e-8},{"x":133,"y":3e-8},{"x":141,"y":3.3e-8},
{"x":295,"y":6.3e-6},{"x":295,"y":5.2e-6},{"x":293,"y":4.4e-6},{"x":297,"y":3.5e-6},{"x":306,"y":6e-6},{"x":313,"y":6.3e-6},{"x":318.4,"y":7.2e-6},{"x":317.5,"y":5.5e-6},{"x":303,"y":3.5e-6},{"x":306,"y":3.2e-6},{"x":306,"y":2.9e-6},{"x":307,"y":2.3e-6},{"x":312,"y":2.7e-6},{"x":318.4,"y":3.3e-6},{"x":318.4,"y":2.8e-6},{"x":325,"y":3.5e-6},{"x":324,"y":2.9e-6},{"x":323.7,"y":3.45e-6},{"x":334.5,"y":2.1e-6},{"x":334.5,"y":1.9e-6},{"x":328,"y":1.9e-6},{"x":327,"y":1.7e-6},{"x":337,"y":1.56e-6},{"x":293.5,"y":2.8e-8},{"x":300.5,"y":2.5e-8},{"x":308,"y":2.5e-8},{"x":311,"y":2.6e-8},{"x":321,"y":1.3e-8},{"x":321,"y":1.8e-8},{"x":325.4,"y":1.8e-8},{"x":329,"y":2.2e-8},{"x":331.6,"y":2.15e-8},{"x":335.4,"y":2e-8},
{"x":347,"y":2.85e-6},{"x":347,"y":1.6e-6},{"x":348,"y":1.13e-6},{"x":349,"y":1.4e-6},{"x":359.6,"y":3.2e-6},{"x":362,"y":2.85e-6},{"x":362,"y":2.45e-6},{"x":359.4,"y":2e-6},{"x":357,"y":1.85e-6},{"x":364,"y":1.8e-6},{"x":356,"y":1.6e-6},{"x":362.5,"y":1.5e-6},{"x":370,"y":5.2e-6},{"x":370,"y":4.5e-6},{"x":370,"y":3.7e-6},{"x":375.5,"y":3.7e-6},{"x":375.5,"y":2.9e-6},{"x":375.5,"y":2.3e-6},{"x":381,"y":1.04e-5},{"x":381,"y":1e-5},{"x":381,"y":6.3e-6},{"x":381,"y":5.5e-6},{"x":376.4,"y":1.42e-6},{"x":385,"y":2e-6},{"x":390.4,"y":3.9e-6},{"x":392,"y":2.45e-6},{"x":398,"y":2.7e-6},{"x":401,"y":2.45e-6},{"x":404,"y":3e-6},{"x":404,"y":2.25e-6},{"x":398,"y":1.95e-6},{"x":393,"y":1.75e-6},{"x":395,"y":1.72e-6},{"x":401,"y":1.72e-6},{"x":404,"y":1.85e-6},{"x":404,"y":1.55e-6},{"x":407.4,"y":1.85e-6},{"x":407.4,"y":1.55e-6},{"x":411,"y":1.8e-6},{"x":421,"y":1.75e-6},{"x":419,"y":2.45e-6},{"x":419,"y":1.6e-6},{"x":428.4,"y":9.2e-6},{"x":428.4,"y":5.9e-6},{"x":428.4,"y":2.8e-6},{"x":428.4,"y":2.45e-6},{"x":434.7,"y":2.65e-6},{"x":434.7,"y":1.95e-6},{"x":434.7,"y":1.7e-6},{"x":430,"y":1.7e-6},{"x":430,"y":1.5e-6},
{"x":348,"y":1.62e-8},{"x":366.6,"y":2.05e-8},{"x":361,"y":9.6e-9},{"x":361,"y":7.8e-9},{"x":359.4,"y":1.3e-8},{"x":373,"y":1.8e-8},{"x":375.5,"y":1.9e-8},{"x":377.6,"y":1.4e-8},{"x":387,"y":1.6e-8},{"x":394,"y":1.47e-8},{"x":397,"y":7.5e-9},{"x":400,"y":1.65e-8},{"x":404.4,"y":1.62e-8},{"x":418.8,"y":1.3e-8},{"x":422.4,"y":1.6e-8},{"x":419.5,"y":1.47e-8},{"x":432.8,"y":1.6e-8},{"x":435.6,"y":1.9e-8},
{"x":469.5,"y":7e-6},{"x":490,"y":7.8e-6},{"x":490,"y":7e-6},{"x":490,"y":6.4e-6},{"x":490,"y":5.3e-6},{"x":489,"y":4.8e-6},{"x":502.4,"y":6.8e-6},{"x":502.4,"y":4.9e-6},{"x":518.3,"y":7.6e-6},{"x":523,"y":6.5e-6},{"x":542,"y":5.3e-6},{"x":517.5,"y":5.5e-6},{"x":519,"y":5.1e-6},{"x":518.8,"y":4.25e-6},{"x":469.7,"y":5.3e-6},{"x":471,"y":4.8e-6},{"x":502.4,"y":3.8e-6},{"x":502.4,"y":3.4e-6},{"x":502.4,"y":3e-6},{"x":502.4,"y":2.5e-6},{"x":514.7,"y":3.8e-6},{"x":514.7,"y":3.3e-6},{"x":518.3,"y":3.06e-6},{"x":518.3,"y":2.8e-6},{"x":518.3,"y":2.4e-6},{"x":529.6,"y":3.2e-6},{"x":535,"y":2.2e-6},{"x":505.6,"y":3e-6},{"x":509.4,"y":2.15e-6},{"x":486.3,"y":3.5e-6},{"x":490,"y":3.5e-6},{"x":469,"y":3e-6},{"x":451,"y":2.5e-6},{"x":460,"y":2.75e-6},{"x":461,"y":2.45e-6},{"x":480,"y":2.75e-6},{"x":480,"y":2.2e-6},{"x":475.4,"y":2.1e-6},{"x":459.3,"y":1.9e-6},{"x":455.5,"y":1.8e-6},{"x":452,"y":1.6e-6},{"x":473,"y":1.6e-6},{"x":440.4,"y":1.35e-6},{"x":447,"y":1.3e-6},{"x":462,"y":1.42e-6},{"x":495,"y":1.85e-6},{"x":497,"y":2.1e-6},{"x":500,"y":2.3e-6},{"x":526.4,"y":1.85e-6},{"x":535,"y":1.65e-6},{"x":538.7,"y":1.65e-6},
{"x":447,"y":1.62e-8},{"x":452,"y":1.47e-8},{"x":454,"y":1.34e-8},{"x":452.7,"y":1.2e-8},{"x":460.6,"y":1.3e-8},{"x":463,"y":1.55e-8},{"x":477,"y":8.4e-9},{"x":479.7,"y":5.7e-9},{"x":481,"y":8.8e-9},{"x":492,"y":1.18e-8},{"x":495.8,"y":1.05e-8},{"x":500,"y":1.26e-8},{"x":496.7,"y":1.45e-8},{"x":503.7,"y":1.55e-8},{"x":512.8,"y":1.4e-8},{"x":531,"y":1.1e-8},{"x":534,"y":1.5e-8},{"x":543,"y":1.5e-8},
{"x":578.3,"y":6.2e-6},{"x":578,"y":5.9e-6},{"x":576.4,"y":3.4e-6},{"x":583.6,"y":3.4e-6},{"x":583.6,"y":3.2e-6},{"x":590.6,"y":3.45e-6},{"x":591,"y":3e-6},{"x":586.4,"y":2.45e-6},{"x":594.6,"y":2.45e-6},{"x":594.6,"y":2.25e-6},{"x":575.7,"y":2e-6},{"x":583.6,"y":1.95e-6},{"x":587.4,"y":1.8e-6},{"x":590,"y":1.65e-6},{"x":594.6,"y":1.95e-6},{"x":614,"y":6.9e-6},{"x":614,"y":5.3e-6},{"x":620.5,"y":4.9e-6},{"x":620.5,"y":4.4e-6},{"x":616,"y":3.06e-6},{"x":622,"y":3e-6},{"x":613,"y":2.65e-6},{"x":613,"y":2.2e-6},{"x":613,"y":1.95e-6},{"x":602.5,"y":2.1e-6},{"x":608,"y":2.25e-6},{"x":630,"y":1.28e-5},{"x":630,"y":3.6e-6},{"x":626,"y":2.45e-6},{"x":628,"y":2.5e-6},{"x":630.5,"y":2.2e-6},{"x":630.5,"y":1.8e-6},{"x":636,"y":4.1e-6},{"x":637,"y":3.7e-6},{"x":638,"y":2.1e-6},{"x":638,"y":1.75e-6},{"x":645.6,"y":6.6e-6},{"x":645.6,"y":5.8e-6},{"x":661.7,"y":6.3e-6},{"x":661.7,"y":4.9e-6},{"x":676,"y":1.12e-5},{"x":676,"y":7.6e-6},{"x":676,"y":4.5e-6},{"x":683.4,"y":4.7e-6},{"x":671,"y":3.6e-6},{"x":653.6,"y":3.6e-6},{"x":652.3,"y":3.3e-6},{"x":652.3,"y":2.65e-6},{"x":652.8,"y":2.2e-6},{"x":657.3,"y":2.7e-6},{"x":656.4,"y":2.25e-6},{"x":661.7,"y":2.45e-6},{"x":664,"y":2.2e-6},{"x":662.6,"y":2e-6},{"x":669.6,"y":2.7e-6},{"x":682,"y":2.6e-6},{"x":680,"y":2.2e-6},{"x":685,"y":2.4e-6},{"x":685.7,"y":2.7e-6},{"x":690,"y":3.2e-6},{"x":691,"y":2.5e-6},{"x":690,"y":2.1e-6},{"x":693.6,"y":2.3e-6},{"x":690.5,"y":1.75e-6},{"x":699.5,"y":3.9e-6},{"x":699,"y":1.8e-6},{"x":699,"y":1.5e-6},{"x":702.7,"y":7.9e-7},{"x":694,"y":1.55e-6},{"x":677,"y":1.8e-6},{"x":679.5,"y":1.85e-6},{"x":684,"y":2e-6},{"x":666.8,"y":1.85e-6},{"x":670.5,"y":1.65e-6},{"x":673.4,"y":1.55e-6},{"x":655.4,"y":1.72e-6},{"x":646.4,"y":2e-6},
{"x":572,"y":1.1e-8},{"x":571.3,"y":1.2e-8},{"x":579,"y":1.1e-8},{"x":582.7,"y":8.4e-9},{"x":585,"y":8.6e-9},{"x":585,"y":7.5e-9},{"x":587,"y":1.17e-8},{"x":600.6,"y":9.6e-9},{"x":604,"y":1.1e-8},{"x":609,"y":1.3e-8},{"x":619,"y":1.2e-8},{"x":621,"y":1.37e-8},{"x":628,"y":1.4e-8},{"x":629.4,"y":8.6e-9},{"x":635,"y":1.07e-8},{"x":649,"y":1.18e-8},{"x":652,"y":1.25e-8},{"x":655.4,"y":1.3e-8},{"x":661,"y":1.07e-8},{"x":665,"y":9.6e-9},{"x":673.8,"y":8.6e-9},{"x":677.6,"y":9.4e-9},{"x":689,"y":8.4e-9},{"x":689,"y":1.05e-8},{"x":682,"y":1.1e-8},{"x":672.4,"y":9.6e-9},{"x":695,"y":1.3e-8},{"x":700,"y":1.4e-8}
]},"mark":{"type":"point","filled":true,"size":24,"opacity":1,"clip":true},"encoding":{"x":{"field":"x","type":"quantitative","axis":{"orient":"top","values":[0,100,200,300,400,500,600,700],"labels":false,"tickSize":-13,"tickWidth":1.2,"grid":false}},"y":{"field":"y","type":"quantitative","axis":{"orient":"left","values":[2e-8,3e-8,4e-8,5e-8,6e-8,7e-8,8e-8,9e-8,2e-7,3e-7,4e-7,5e-7,6e-7,7e-7,8e-7,9e-7,2e-6,3e-6,4e-6,5e-6,6e-6,7e-6,8e-6,9e-6,2e-5,6e-9,7e-9,8e-9,9e-9],"labels":false,"tickSize":-7,"tickWidth":1.2,"grid":true,"gridColor":"#bbb","gridDash":[1,2]}},"color":{"datum":"09_11_dHz","type":"nominal","title":null,"scale":{"domain":["09_11_dHz","thresh = 4e-06","epoch","playground"],"range":["#000000","#ff2a00","#0a3cff","#00f000"]},"legend":{"title":null,"orient":"none","legendX":11,"legendY":318,"fillColor":"white","strokeColor":"#111","padding":8,"symbolType":"stroke","symbolSize":100,"labelFont":"Liberation Sans","labelFontSize":16.5,"labelColor":"#111","labelOffset":48,"rowPadding":9.8,"labelExpr":"datum.label + '\u00a0\u00a0\u00a0\u200b'","encoding":{"symbols":{"x":{"value":30},"size":{"value":{"expr":"datum.value==='09_11_dHz' ? 22 : 3136"}},"shape":{"value":{"expr":"datum.value==='09_11_dHz' ? 'circle' : 'stroke'"}},"fill":{"value":{"expr":"datum.value==='09_11_dHz' ? '#000000' : 'transparent'"}},"strokeWidth":{"value":{"expr":"datum.value==='09_11_dHz' ? 0 : 4"}},"strokeDash":{"value":{"expr":"datum.value==='thresh = 4e-06' ? [5,2.3] : [100,0]"}}}}}}}},
{"data":{"values":[{"thresh":4e-6,"series":"thresh = 4e-06"}]},"mark":{"type":"rule","strokeWidth":4,"strokeDash":[5,2.3]},"encoding":{"y":{"field":"thresh","type":"quantitative","axis":{"orient":"left","values":[1e-8,1e-7,1e-6,1e-5],"labelExpr":"'-' + round(-log(datum.value)/LN10)","labelFontSize":12.5,"labelPadding":6,"labelOffset":-12,"ticks":false,"grid":false,"labelOverlap":false}},"color":{"field":"series","type":"nominal","title":null}}},
{"data":{"values":[{"lineX":286.2,"series":"playground"},{"lineX":304.2,"series":"playground"},{"lineX":315.5,"series":"epoch"}]},"mark":{"type":"rule","strokeWidth":4},"encoding":{"x":{"field":"lineX","type":"quantitative","axis":null},"color":{"field":"series","type":"nominal","title":null}}}
]}
